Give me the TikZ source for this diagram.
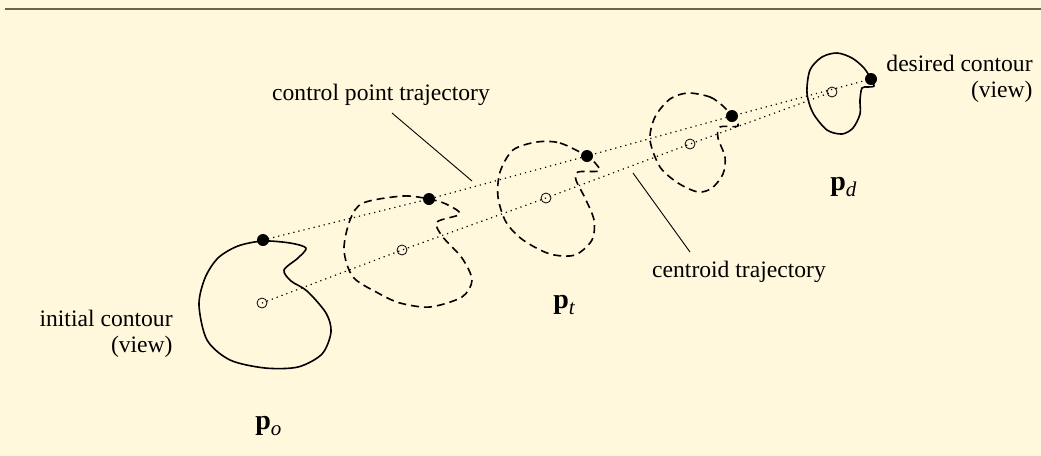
\documentclass[tikz,border=0pt]{standalone}
\usepackage{fontspec}
\setmainfont{Liberation Serif}
\usepackage{tikz}
\usetikzlibrary{positioning}
\definecolor{PageColor}{RGB}{255,248,220}
\definecolor{RuleColor}{RGB}{105,100,80}
\newcommand{\posevec}[1]{{\fontsize{14}{16}\selectfont\textbf{p}}\raisebox{-3pt}{\fontsize{10.5}{12}\selectfont\textit{#1}}}

\begin{document}
\begin{tikzpicture}[x=0.5pt, y=-0.5pt,
    contour/.style={line width=0.8pt, line join=round},
    ghost/.style={contour, dash pattern=on 4pt off 2.5pt},
    traj/.style={dotted, line width=0.6pt},
    leader/.style={line width=0.45pt},
    ctrl/.style={circle, fill=black, inner sep=0pt, minimum size=6pt},
    cent/.style={circle, draw, line width=0.4pt, inner sep=0pt, minimum size=5pt},
    lbl/.style={font=\fontsize{11.8}{13}\selectfont, inner sep=0pt}]
      \fill[PageColor] (0,0) rectangle (1041,456);
      \useasboundingbox (0,0) rectangle (1041,456);
      \draw[RuleColor, line width=0.7pt] (5,9) -- (1041,9);
      % contours: initial, three intermediate views, desired
      \draw[contour] plot[smooth cycle] coordinates {(263,241) (290,243) (306,248) (298,258) (284,270) (291,281) (307,291) (326,313) (331,332) (322,354) (298,367) (265,368) (230,360) (207,340) (199,305) (205,278) (218,258) (238,246)};
      \draw[ghost] plot[smooth cycle] coordinates {(363,203) (403,196) (429,199) (446,204) (460,214) (437,222) (442,236) (462,258) (472,280) (462,297) (430,307) (400,303) (378,293) (353,277) (344,250) (350,220)};
      \draw[ghost] plot[smooth cycle] coordinates {(537,142) (560,143) (587,156) (596,164) (599,171) (578,172) (576,180) (585,198) (594,220) (592,240) (575,255) (550,254) (523,240) (506,222) (498,197) (500,172) (513,150)};
      \draw[ghost] plot[smooth cycle] coordinates {(688,93) (710,97) (723,106) (732,116) (738,126) (720,127) (718,138) (725,157) (723,174) (712,188) (698,192) (678,183) (660,167) (650,140) (655,117) (670,99)};
      \draw[contour] plot[smooth cycle] coordinates {(837,53) (852,58) (864,68) (871,79) (874,86) (868,87) (862,88) (860,100) (860,114) (853,128) (842,134) (827,130) (813,113) (807,93) (810,70) (822,57)};
      % centroids and control points
      \node[cent] (c0) at (262,303) {};
      \node[cent] (c1) at (402,250) {};
      \node[cent] (c2) at (546,198) {};
      \node[cent] (c3) at (690,144) {};
      \node[cent] (c4) at (832,92) {};
      \node[ctrl] (k0) at (263,240) {};
      \node[ctrl] (k1) at (429,199) {};
      \node[ctrl] (k2) at (587,156) {};
      \node[ctrl] (k3) at (732,116) {};
      \node[ctrl] (k4) at (871,79) {};
      \draw[traj] (k0.center) -- (k1.center) -- (k2.center) -- (k3.center) -- (k4.center);
      \draw[traj] (c0.center) -- (c1.center) -- (c2.center) -- (c3.center) -- (c4.center);
      % labels
      \node[lbl, anchor=base east, align=right] (initlabel) at (173,352) {initial contour\\(view)};
      \node[lbl, anchor=base east, align=right] (desiredlabel) at (1033,97) {desired contour\\(view)};
      \node[lbl, anchor=base] (cptlabel) at (381,100) {control point trajectory};
      \node[lbl, anchor=base] (centlabel) at (739,277) {centroid trajectory};
      \node[inner sep=0pt, anchor=base west] (po) at (255,429) {\posevec{o}};
      \node[inner sep=0pt, anchor=base west] (pt) at (553,308) {\posevec{t}};
      \node[inner sep=0pt, anchor=base west] (pd) at (830,190) {\posevec{d}};
      \coordinate (cptfoot) at (392,113);
      \coordinate (cpttip) at (472,181);
      \coordinate (centtip) at (633,173);
      \coordinate (centfoot) at (690,252);
      \draw[leader] (cptfoot) -- (cpttip);
      \draw[leader] (centtip) -- (centfoot);
    \end{tikzpicture}
\end{document}
